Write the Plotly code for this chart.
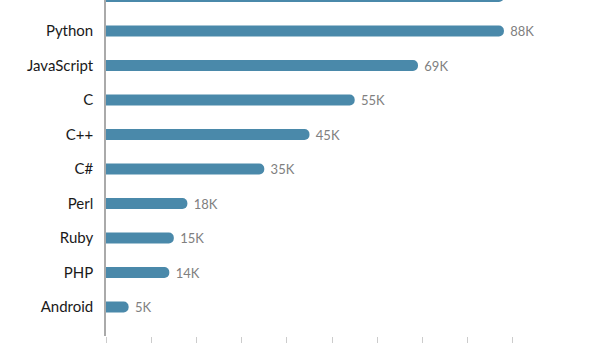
import plotly.graph_objects as go

languages = ["Android", "PHP", "Ruby", "Perl", "C#", "C++", "C", "JavaScript", "Python", "Java"]
jobs_k = [5, 14, 15, 18, 35, 45, 55, 69, 88, 88]
labels = [f"\u00a0{v}K" for v in jobs_k]
tick_vals = [0, 10, 20, 30, 40, 50, 60, 70, 80, 90]

fig = go.Figure(go.Bar(
    x=jobs_k, y=languages, orientation="h",
    marker=dict(color="#4a89aa", cornerradius=6, line=dict(width=0)),
    width=0.32,
    text=labels, textposition="outside", cliponaxis=False,
    constraintext="none",
    textfont=dict(family="Lato", size=13, color="#808080"),
    hoverinfo="skip",
))

fig.update_layout(
    width=600, height=343,
    margin=dict(l=106, r=45, t=0, b=7),
    paper_bgcolor="white", plot_bgcolor="white",
    showlegend=False,
    font=dict(family="Lato"),
    xaxis=dict(range=[0, 99.3], tickvals=tick_vals, showticklabels=False,
               ticks="outside", ticklen=7, tickcolor="#cccccc", tickwidth=1,
               showgrid=False, zeroline=False, showline=False, fixedrange=True),
    yaxis=dict(categoryorder="array", categoryarray=languages,
               range=[-0.84, 8.9], showgrid=False, zeroline=False,
               showline=True, linecolor="#aaaaaa", linewidth=1.5,
               ticks="", ticklabelstandoff=8,
               tickfont=dict(family="Lato", size=15, color="#1a1a1a")),
)

fig.write_html("out.html")
